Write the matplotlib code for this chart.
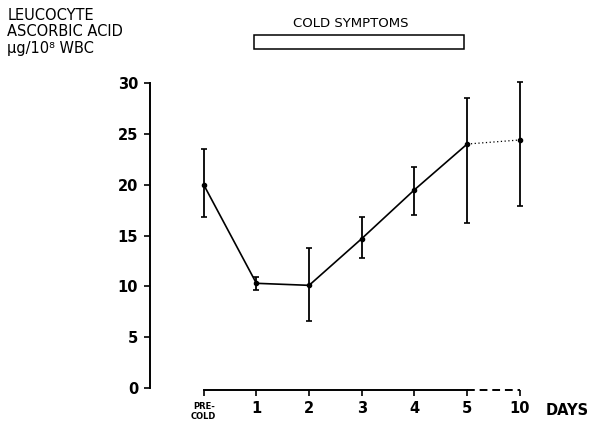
import matplotlib.pyplot as plt
from matplotlib.patches import Rectangle

plt.rcParams['font.family'] = ['DejaVu Sans']
plt.rcParams['font.weight'] = 'bold'

days = ["", "1", "2", "3", "4", "5", "10"]
first_label = "PRE-\nCOLD"
ascorbic = [20.0, 10.3, 10.1, 14.7, 19.5, 24.0, 24.4]
err_low = [16.8, 9.6, 6.6, 12.8, 17.0, 16.2, 17.9]
err_high = [23.5, 10.9, 13.8, 16.8, 21.7, 28.5, 30.1]

pos = list(range(len(days)))
lower = [v - lo for v, lo in zip(ascorbic, err_low)]
upper = [hi - v for v, hi in zip(ascorbic, err_high)]

fig = plt.figure(figsize=(5.95, 4.23), dpi=100)
ax = fig.add_axes([0.252, 0.0827, 0.666, 0.721])

# solid part of the curve (pre-cold .. day 5), dotted to day 10
ax.plot(pos[:6], ascorbic[:6], color='black', lw=1.2, clip_on=False)
ax.plot(pos[5:], ascorbic[5:], color='black', lw=0.9, ls=(0, (1, 2)), clip_on=False)
ax.errorbar(pos, ascorbic, yerr=[lower, upper], fmt='o', ms=3, color='black',
            ecolor='black', elinewidth=1.3, capsize=2.3, capthick=1.2, clip_on=False)

ax.tick_params(axis='y', direction='out', length=4.5, width=1.2, pad=4, labelsize=10.5)
ax.tick_params(axis='x', direction='out', length=4, width=1.2, pad=4, labelsize=10.5)

ax.set_xlim(-1.02, 6.5)
ax.set_ylim(0, 30)
ax.set_yticks([0, 5, 10, 15, 20, 25, 30])
ax.set_xticks(pos)
ax.set_xticklabels(days)
ax.text(pos[0], -1.4, first_label, fontsize=6, ha='center',
        va='top', linespacing=1.05, clip_on=False)

for s in ['top', 'right']:
    ax.spines[s].set_visible(False)
ax.spines['left'].set_linewidth(1.4)
ax.spines['bottom'].set_linewidth(1.4)
ax.spines['bottom'].set_bounds(0, 5)
ax.spines['bottom'].set_position(('data', -0.15))
ax.plot([5, 6], [-0.15, -0.15], color='black', lw=1.4, ls=(0, (4, 2.5)), clip_on=False)

fig.text(0.012, 0.982, "LEUCOCYTE\nASCORBIC ACID\nμg/10⁸ WBC", fontsize=10.5,
         fontweight='normal', va='top', ha='left', linespacing=1.15)
fig.text(0.99, 0.03, "DAYS", fontsize=10.5, ha='right', va='center')

# cold symptoms bar
fig.text(0.59, 0.945, "COLD SYMPTOMS", fontsize=9.5, fontweight='normal',
         ha='center', va='center')
fig.patches.append(Rectangle((254 / 595, 1 - 49 / 423), 210 / 595, 14 / 423,
                             transform=fig.transFigure, fill=False, lw=1.1,
                             edgecolor='black', figure=fig))

fig.savefig("out.png", dpi=100)
